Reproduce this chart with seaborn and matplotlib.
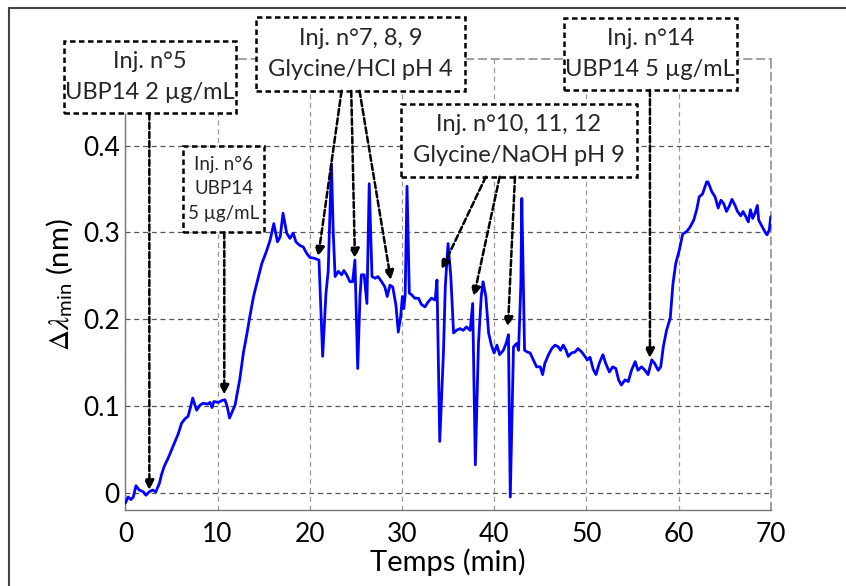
import seaborn as sns
import matplotlib.pyplot as plt
from matplotlib.patches import Rectangle
from matplotlib.lines import Line2D
import numpy as np

sns.set_theme(style='white')
plt.rcParams['font.family'] = ['Lato', 'DejaVu Sans']
plt.rcParams['mathtext.fontset'] = 'stix'

# temps (min) et décalage (nm)
temps = [0.0, 0.3, 0.6, 0.86, 1.15, 1.5, 1.94, 2.23, 2.6, 2.96, 3.3, 3.7, 3.9, 4.2, 4.65,
         5.0, 5.4, 5.74, 6.1, 6.46, 6.8, 7.08, 7.3, 7.73, 8.1, 8.45, 8.9, 9.18, 9.4, 9.6,
         10.1, 10.45, 10.8, 11.05, 11.3, 11.9, 12.4, 12.8, 13.2, 13.5, 13.9, 14.25, 14.8,
         15.3, 15.7, 16.1, 16.5, 16.8, 17.1, 17.5, 17.85, 18.2, 18.5, 18.9, 19.3, 19.65,
         20.0, 20.5, 21.0, 21.4, 21.76, 22.0, 22.35, 22.55, 22.75, 23.1, 23.46, 23.7, 24.0,
         24.36, 24.65, 24.9, 25.2, 25.45, 25.6, 25.9, 26.2, 26.45, 26.75, 27.1, 27.4, 27.8,
         28.15, 28.4, 28.7, 29.0, 29.35, 29.6, 29.86, 30.05, 30.2, 30.35, 30.55, 30.8,
         31.05, 31.4, 31.8, 32.1, 32.5, 32.86, 33.2, 33.6, 33.8, 34.1, 34.5, 34.7, 35.0,
         35.3, 35.6, 35.9, 36.3, 36.65, 37.0, 37.4, 37.67, 37.96, 38.3, 38.6, 38.8, 39.1,
         39.4, 39.7, 40.0, 40.3, 40.6, 41.0, 41.3, 41.55, 41.75, 42.1, 42.45, 42.65, 42.9,
         43.0, 43.15, 43.3, 43.6, 43.9, 44.25, 44.6, 45.0, 45.26, 45.5, 45.9, 46.25, 46.6,
         46.96, 47.2, 47.5, 47.8, 48.04, 48.4, 48.77, 49.1, 49.5, 49.85, 50.1, 50.4, 50.75,
         51.05, 51.4, 51.8, 52.1, 52.5, 52.86, 53.2, 53.5, 53.8, 54.2, 54.55, 54.9, 55.3,
         55.6, 56.0, 56.36, 56.7, 57.1, 57.4, 57.8, 58.07, 58.35, 58.7, 59.1, 59.4, 59.7,
         60.1, 60.45, 60.9, 61.25, 61.65, 61.97, 62.25, 62.6, 63.05, 63.2, 63.6, 63.96,
         64.3, 64.6, 64.9, 65.2, 65.5, 65.8, 66.13, 66.4, 66.75, 67.0, 67.3, 67.57, 67.8,
         68.05, 68.3, 68.55, 68.7, 69.0, 69.4, 69.6, 69.85, 70.0]
delta = [-0.012, -0.005, -0.008, -0.005, 0.008, 0.003, 0.001, -0.003, 0.001, 0.003, 0.001,
         0.011, 0.020, 0.030, 0.040, 0.049, 0.059, 0.068, 0.080, 0.085, 0.088, 0.099, 0.109,
         0.095, 0.101, 0.103, 0.102, 0.104, 0.098, 0.105, 0.104, 0.106, 0.107, 0.099, 0.086,
         0.101, 0.130, 0.161, 0.184, 0.203, 0.226, 0.241, 0.264, 0.278, 0.291, 0.310, 0.289,
         0.295, 0.322, 0.299, 0.293, 0.299, 0.289, 0.285, 0.283, 0.276, 0.271, 0.270, 0.268,
         0.157, 0.230, 0.255, 0.379, 0.299, 0.249, 0.255, 0.251, 0.256, 0.251, 0.243, 0.243,
         0.268, 0.143, 0.226, 0.251, 0.251, 0.218, 0.356, 0.249, 0.247, 0.249, 0.243, 0.237,
         0.226, 0.239, 0.237, 0.216, 0.185, 0.203, 0.226, 0.212, 0.228, 0.353, 0.230, 0.228,
         0.224, 0.224, 0.217, 0.214, 0.220, 0.224, 0.222, 0.245, 0.059, 0.161, 0.237, 0.287,
         0.249, 0.184, 0.187, 0.189, 0.187, 0.191, 0.187, 0.218, 0.032, 0.172, 0.226, 0.243,
         0.226, 0.184, 0.170, 0.161, 0.170, 0.159, 0.164, 0.172, 0.182, -0.005, 0.168, 0.172,
         0.164, 0.241, 0.339, 0.253, 0.164, 0.162, 0.161, 0.153, 0.145, 0.145, 0.136, 0.149,
         0.159, 0.166, 0.170, 0.168, 0.164, 0.170, 0.164, 0.157, 0.161, 0.162, 0.166, 0.162,
         0.157, 0.153, 0.156, 0.142, 0.136, 0.149, 0.159, 0.149, 0.139, 0.145, 0.143, 0.130,
         0.124, 0.130, 0.128, 0.141, 0.151, 0.141, 0.145, 0.141, 0.136, 0.153, 0.149, 0.141,
         0.145, 0.168, 0.187, 0.201, 0.241, 0.264, 0.280, 0.298, 0.301, 0.306, 0.314, 0.326,
         0.341, 0.344, 0.358, 0.358, 0.347, 0.341, 0.328, 0.337, 0.333, 0.324, 0.330, 0.338,
         0.331, 0.324, 0.319, 0.324, 0.318, 0.312, 0.326, 0.316, 0.322, 0.331, 0.314, 0.308,
         0.300, 0.297, 0.303, 0.318]

xticks = [0, 10, 20, 30, 40, 50, 60, 70]
yticks = [0, 0.1, 0.2, 0.3, 0.4]
ytick_labels = ['0', '0.1', '0.2', '0.3', '0.4']

# encadrés : texte, (t gauche, t droite), (v bas, v haut), taille, interligne
boites = [
    ('Inj. n°5\nUBP14 2 µg/mL', (-6.69, 12.0), (0.437, 0.520), 17, 1.6),
    ('Inj. n°6\nUBP14\n5 µg/mL', (6.30, 15.08), (0.300, 0.400), 13.5, 1.55),
    ('Inj. n°7, 8, 9\nGlycine/HCl pH 4', (14.2, 36.86), (0.463, 0.548), 17, 1.6),
    ('Inj. n°10, 11, 12\nGlycine/NaOH pH 9', (29.9, 55.47), (0.364, 0.448), 17, 1.6),
    ('Inj. n°14\nUBP14 5 µg/mL', (47.57, 66.3), (0.464, 0.547), 17, 1.6),
]
# flèches : départ (t, v) -> injection (t, v)
fleches = [
    ((2.6, 0.437), (2.6, 0.003)),
    ((10.73, 0.300), (10.73, 0.113)),
    ((23.45, 0.463), (20.92, 0.272)),
    ((24.5, 0.463), (24.9, 0.270)),
    ((25.4, 0.463), (28.8, 0.245)),
    ((39.1, 0.364), (34.3, 0.257)),
    ((40.6, 0.364), (37.8, 0.226)),
    ((42.26, 0.364), (41.5, 0.191)),
    ((56.9, 0.464), (56.9, 0.155)),
]

fig = plt.figure(figsize=(8.46, 5.86), dpi=100)
ax = fig.add_axes([0.1482, 0.1297, 0.911 - 0.1482, 0.8998 - 0.1297])

sns.lineplot(x=temps, y=delta, ax=ax, color='#0000ff', lw=2.0, sort=False,
             estimator=None, zorder=3)

ax.set_xlim(0, 70)
ax.set_ylim(-0.02, 0.5)
ax.set_xticks(xticks)
ax.set_yticks(yticks)
ax.set_yticklabels(ytick_labels)
ax.xaxis.grid(True, color='#999999', ls=(0, (4, 3)), lw=0.9)
ax.yaxis.grid(True, color='#555555', ls=(0, (4, 3)), lw=0.9)
ax.tick_params(direction='in', length=4, width=0.8, color='#777777',
               labelsize=19, labelcolor='black')
ax.tick_params(axis='x', pad=9)
ax.tick_params(axis='y', pad=4)

for s in ['left', 'bottom']:
    ax.spines[s].set_color('#777777')
    ax.spines[s].set_linewidth(1.0)
for s in ['top', 'right']:
    ax.spines[s].set_color('#999999')
    ax.spines[s].set_linewidth(1.3)
    ax.spines[s].set_linestyle((0, (4, 3)))

ax.set_xlabel('Temps (min)', fontsize=21, labelpad=1, color='black')
ax.set_ylabel(r'$\Delta\lambda_{\mathregular{min}}$ (nm)', fontsize=21, labelpad=6,
              color='black')

for texte, (t0, t1), (v0, v1), taille, interligne in boites:
    ax.add_patch(Rectangle((t0, v0), t1 - t0, v1 - v0, facecolor='white',
                           edgecolor='black', lw=1.8, ls=(0, (2.2, 1.4)),
                           clip_on=False, zorder=5))
    ax.text((t0 + t1) / 2, (v0 + v1) / 2, texte, ha='center', va='center',
            fontsize=taille, linespacing=interligne, zorder=6, clip_on=False)

for (ts, vs), (tf, vf) in fleches:
    ax.annotate('', xy=(tf, vf), xytext=(ts, vs), annotation_clip=False, zorder=7,
                arrowprops=dict(arrowstyle='-|>', color='black', lw=1.8,
                                ls=(0, (2.5, 1.2)), mutation_scale=14,
                                shrinkA=0, shrinkB=0))

# cadre de la figure
fig.add_artist(Line2D([9 / 846, 9 / 846], [0, 1 - 7.5 / 586], color='#444444', lw=1.5))
fig.add_artist(Line2D([9 / 846, 1], [1 - 7.5 / 586, 1 - 7.5 / 586], color='#444444', lw=1.5))

fig.savefig('out.png', dpi=100)
